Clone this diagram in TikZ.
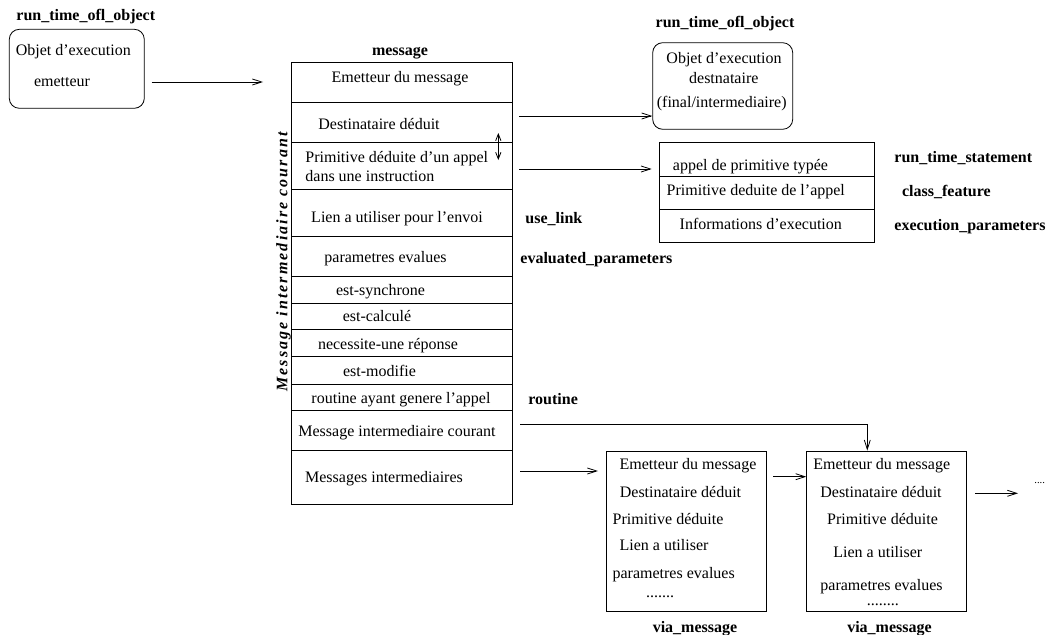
\documentclass[tikz,border=0pt]{standalone}
\usepackage{fontspec}
\setmainfont{Liberation Serif}
\usetikzlibrary{arrows.meta,fit}
\begin{document}
\begin{tikzpicture}[x=0.75pt,y=-0.75pt,line width=0.6pt,
  txt/.style={font=\fontsize{12}{14}\selectfont, inner sep=0pt, text height=8.4pt, text depth=2.4pt},
  lbl/.style={txt, font=\fontsize{12}{14}\selectfont\bfseries},
  dots/.style={font=\fontsize{12}{14}\selectfont, inner sep=0pt, text height=1pt, text depth=0pt, anchor=base},
  frame/.style={draw, inner sep=0pt},
  rframe/.style={draw, inner sep=0pt, rounded corners=7.5pt},
  link/.style={-{Straight Barb[length=7pt,width=4.5pt]}},
  dlink/.style={{Straight Barb[length=5pt,width=4pt]}-{Straight Barb[length=5pt,width=4pt]}},
]
\useasboundingbox (0,0) rectangle (1050,635);

% sending object
\node[lbl] (lsrc) at (85.8,17) {run\_time\_ofl\_object};
\node[rframe, fit={(9.3,29.3) (144.3,108.3)}] (src) {};
\node[txt] (src1) at (73.3,51.7) {Objet d'execution};
\node[txt] (src2) at (62,82.7) {emetteur};

% message record
\node[lbl] (lmsg) at (400,51.7) {message};
\node[frame, fit={(291.3,62.3) (512.3,504.3)}] (msg) {};
\foreach \y in {102.3,142.7,189.3,236,276.7,303.3,329.3,356,384,410.7,450.7}
  \draw (291.3,\y) -- (512.3,\y);
\node[txt] (r1) at (400,78.3) {Emetteur du message};
\node[txt] (r2) at (379,125) {Destinataire déduit};
\node[txt, anchor=west] (r3a) at (305,158) {Primitive déduite d'un appel};
\node[txt, anchor=west] (r3b) at (305,177.7) {dans une instruction};
\node[txt] (r4) at (397,218.3) {Lien a utiliser pour l'envoi};
\node[txt] (r5) at (385.5,258.3) {parametres evalues};
\node[txt] (r6) at (380.5,291.7) {est-synchrone};
\node[txt] (r7) at (377,317.3) {est-calculé};
\node[txt] (r8) at (388,345) {necessite-une réponse};
\node[txt] (r9) at (379.5,372.3) {est-modifie};
\node[txt] (r10) at (401,399.3) {routine ayant genere l'appel};
\node[txt] (r11) at (397,432.7) {Message intermediaire courant};
\node[txt] (r12) at (384,478.3) {Messages intermediaires};
\node[lbl, font=\fontsize{12}{14}\selectfont\bfseries\itshape\addfontfeature{LetterSpace=13}, rotate=90] (lside) at (283.3,262) {Message intermediaire courant};

\node[lbl, anchor=west] (luse) at (525,219) {use\_link};
\node[lbl, anchor=west] (leval) at (520,259) {evaluated\_parameters};
\node[lbl, anchor=west] (lrout) at (528,400) {routine};

% receiving object
\node[lbl] (ldst) at (725,24) {run\_time\_ofl\_object};
\node[rframe, fit={(652.7,42.7) (792.7,129.3)}] (dest) {};
\node[txt] (dst1) at (724,59.3) {Objet d'execution};
\node[txt] (dst2) at (723.8,80) {destnataire};
\node[txt] (dst3) at (721.7,104) {(final/intermediaire)};

% run time statement
\node[frame, fit={(659.3,142.7) (874,242.7)}] (rts) {};
\draw (659.3,176) -- (874,176);
\draw (659.3,209.3) -- (874,209.3);
\node[txt] (s1t) at (750.5,166) {appel de primitive typée};
\node[txt] (s2t) at (755.8,191.7) {Primitive deduite de l'appel};
\node[txt] (s3t) at (760.8,225) {Informations d'execution};
\node[lbl, anchor=west] (lrts) at (894,158.3) {run\_time\_statement};
\node[lbl, anchor=west] (lcf) at (901.7,192.7) {class\_feature};
\node[lbl, anchor=west] (lexp) at (894,226) {execution\_parameters};

% intermediate messages
\node[frame, fit={(606,451) (766.7,611)}] (via1) {};
\node[txt] (a1) at (688,465) {Emetteur du message};
\node[txt] (a2) at (680.5,493.3) {Destinataire déduit};
\node[txt] (a3) at (668,520) {Primitive déduite};
\node[txt] (a4) at (664,546.7) {Lien a utiliser};
\node[txt] (a5) at (673.7,574) {parametres evalues};
\node[dots] (a6) at (660,597) {.......};
\node[lbl] (lvia1) at (695,628) {via\_message};

\node[frame, fit={(806.7,451) (966.7,611)}] (via2) {};
\node[txt] (b1) at (881.7,465) {Emetteur du message};
\node[txt] (b2) at (881,493) {Destinataire déduit};
\node[txt] (b3) at (882.5,520) {Primitive déduite};
\node[txt] (b4) at (877.8,553.3) {Lien a utiliser};
\node[txt] (b5) at (881.5,586.5) {parametres evalues};
\node[dots] (b6) at (882.8,605) {........};
\node[lbl] (lvia2) at (889.5,628) {via\_message};

\node[dots, font=\fontsize{8}{10}\selectfont, anchor=base west] (more) at (1034,483) {....};

% connectors
\coordinate (e1) at (151.7,82);
\coordinate (e2) at (263,82);
\draw[link] (e1) -- (e2);

\coordinate (d1) at (519,116);
\draw[link] (d1) -- (d1 -| dest.west);

\coordinate (s1) at (519,169);
\coordinate (s2) at (651.7,169);
\draw[link] (s1) -- (s2);

\coordinate (u1) at (498.3,133);
\coordinate (u2) at (498.3,160);
\draw[dlink] (u1) -- (u2);

\coordinate (c1) at (520,424);
\coordinate (c2) at (867.3,424);
\draw[link] (c1) -- (c2) -- (c2 |- via2.north);

\coordinate (m1) at (520,471);
\coordinate (m2) at (598,471);
\draw[link] (m1) -- (m2);

\coordinate (v1) at (773,476.7);
\draw[link] (v1) -- (v1 -| via2.west);

\coordinate (w1) at (975,493.3);
\coordinate (w2) at (1018,493.3);
\draw[link] (w1) -- (w2);
\end{tikzpicture}
\end{document}
